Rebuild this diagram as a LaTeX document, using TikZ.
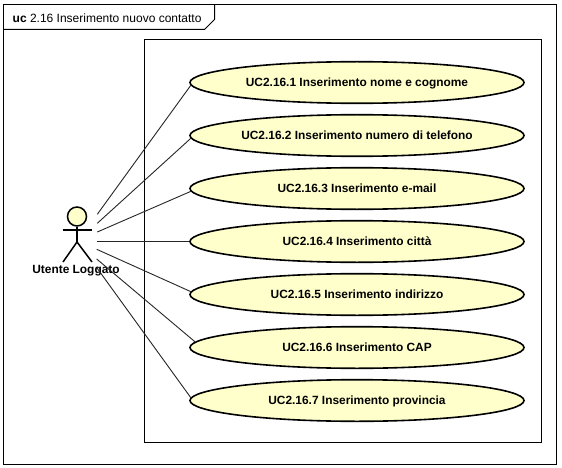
\documentclass[tikz,border=0pt]{standalone}
\usepackage{fontspec}
\setmainfont{Liberation Sans}
\usetikzlibrary{shapes.geometric}
\definecolor{ucfill}{HTML}{FFFFCC}
\tikzset{
  frameline/.style={draw=black,line width=1pt},
  usecase/.style={ellipse,draw=black,line width=1.6pt,fill=ucfill,minimum width=334pt,minimum height=41.6pt,inner sep=0pt,text height=8.5pt,text depth=0pt,font=\fontsize{11.9}{13}\selectfont\bfseries},
  link/.style={draw=black!85,line width=0.9pt},
  actorline/.style={draw=black,line width=1.5pt},
  actorlabel/.style={font=\fontsize{11.9}{13}\selectfont\bfseries,inner sep=0pt},
  titletext/.style={font=\fontsize{12}{14}\selectfont,inner sep=0pt,anchor=west}
}
\begin{document}
\begin{tikzpicture}[x=1pt,y=-1pt]
\useasboundingbox (0,0) rectangle (562,468);
\fill[white] (0,0) rectangle (562,468);
\draw[frameline] (3.5,4.5) rectangle (556.5,464.5);
\draw[frameline] (3.5,29.5) -- (204.5,29.5) -- (214.5,19.5) -- (214.5,4.5);
\node[titletext] (title) at (12.5,18) {\textbf{uc} 2.16 Inserimento nuovo contatto};
\node[draw=black,line width=1pt,minimum width=397pt,minimum height=403pt,inner sep=0pt] (sys) at (343,241) {};
\foreach \n/\y/\t in {1/82.5/UC2.16.1 Inserimento nome e cognome,
  2/135.5/UC2.16.2 Inserimento numero di telefono,
  3/188.5/UC2.16.3 Inserimento e-mail,
  4/241.5/UC2.16.4 Inserimento città,
  5/294.5/UC2.16.5 Inserimento indirizzo,
  6/347.5/UC2.16.6 Inserimento CAP,
  7/400.5/UC2.16.7 Inserimento provincia}
  {\node[usecase] (u\n) at (357,\y) {\t};}
% actor
\node[circle,draw=black,line width=1.5pt,fill=ucfill,minimum size=19pt,inner sep=0pt] (head) at (77,216.5) {};
\coordinate (hip) at (77,242);
\draw[actorline] (head.south) -- (hip);
\draw[actorline] (62.5,230) -- (91.5,230);
\draw[actorline] (63,262) -- (hip) -- (92,262);
\node[actorlabel] (actor) at (76,270.5) {Utente Loggato};
% connector start points
\coordinate (a1) at (97.3,214.3);
\coordinate (a2) at (97.3,223.3);
\coordinate (a3) at (97.3,232);
\coordinate (a4) at (97.3,241.5);
\coordinate (a5) at (96.7,249.3);
\coordinate (a6) at (96.7,259);
\coordinate (a7) at (97,268);
\draw[link] (a1) -- (u1.181.3);
\draw[link] (a2) -- (u2.181.2);
\draw[link] (a3) -- (u3.181.4);
\draw[link] (a4) -- (u4.180);
\draw[link] (a5) -- (u5.179);
\draw[link] (a6) -- (u6.178.85);
\draw[link] (a7) -- (u7.179.45);
\end{tikzpicture}
\end{document}
